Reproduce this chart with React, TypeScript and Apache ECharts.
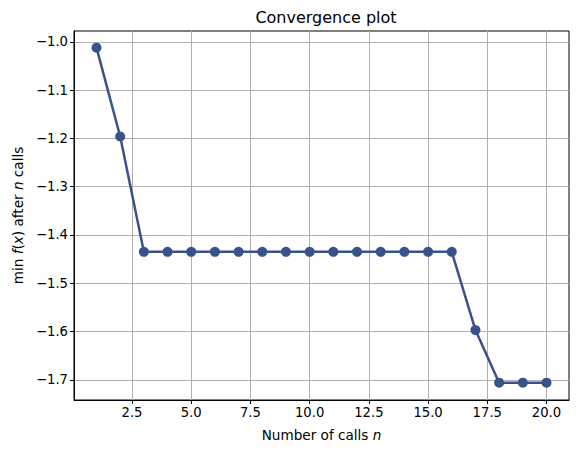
import React, { useEffect, useRef } from "react";
import * as echarts from "echarts";

const calls = [1, 2, 3, 4, 5, 6, 7, 8, 9, 10, 11, 12, 13, 14, 15, 16, 17, 18, 19, 20];
const minValues = [
  -1.012, -1.196, -1.435, -1.435, -1.435, -1.435, -1.435, -1.435, -1.435, -1.435,
  -1.435, -1.435, -1.435, -1.435, -1.435, -1.435, -1.597, -1.706, -1.706, -1.706,
];
const xTicks = [2.5, 5.0, 7.5, 10.0, 12.5, 15.0, 17.5, 20.0];
const yTicks = [-1.7, -1.6, -1.5, -1.4, -1.3, -1.2, -1.1, -1.0];

const FONT = "DejaVu Sans";
const fmt = (v: number) => (v < 0 ? "\u2212" : "") + Math.abs(v).toFixed(1);

export default function App() {
  const ref = useRef<HTMLDivElement>(null);
  useEffect(() => {
    if (!ref.current) return;
    const chart = echarts.init(ref.current, undefined, { renderer: "svg" });
    chart.setOption({
      animation: false,
      backgroundColor: "#ffffff",
      title: {
        text: "Convergence plot",
        left: 321,
        textAlign: "center",
        top: 4,
        textStyle: { fontFamily: FONT, fontSize: 16, fontWeight: "normal", color: "#000" },
      },
      grid: {
        left: 74,
        right: 10,
        top: 31,
        bottom: 54,
        show: true,
        borderColor: "#000",
        borderWidth: 1,
        backgroundColor: "transparent",
      },
      xAxis: {
        type: "value",
        min: 0.05,
        max: 20.95,
        name: "{t|Number of calls }{i|n}",
        nameLocation: "middle",
        nameGap: 28,
        nameTextStyle: {
          rich: {
            t: { fontFamily: FONT, fontSize: 13.6, color: "#000" },
            i: { fontFamily: FONT, fontSize: 13.6, fontStyle: "italic", color: "#000" },
          },
        },
        axisLine: { show: true, onZero: false, lineStyle: { color: "#000", width: 1 } },
        axisTick: { show: true, length: 4, lineStyle: { color: "#000" }, customValues: xTicks },
        axisLabel: {
          customValues: xTicks,
          formatter: (v: number) => fmt(v),
          fontFamily: FONT,
          fontSize: 13.2,
          color: "#000",
          margin: 6,
        },
        splitLine: { show: true, lineStyle: { color: "#b0b0b0", width: 1 } },
      },
      yAxis: {
        type: "value",
        min: -1.7419,
        max: -0.9775,
        name: "{t|min }{i|f}{t|(}{i|x}{t|) after }{i|n}{t| calls}",
        nameLocation: "middle",
        nameRotate: 90,
        nameGap: 49,
        nameTextStyle: {
          rich: {
            t: { fontFamily: FONT, fontSize: 13.6, color: "#000" },
            i: { fontFamily: FONT, fontSize: 13.6, fontStyle: "italic", color: "#000" },
          },
        },
        axisLine: { show: true, onZero: false, lineStyle: { color: "#000", width: 1 } },
        axisTick: { show: true, length: 4, lineStyle: { color: "#000" }, customValues: yTicks },
        axisLabel: {
          customValues: yTicks,
          formatter: (v: number) => fmt(v),
          fontFamily: FONT,
          fontSize: 13.2,
          color: "#000",
          margin: 6,
        },
        splitLine: { show: true, lineStyle: { color: "#b0b0b0", width: 1 } },
      },
      series: [
        {
          type: "line",
          data: calls.map((c, i) => [c, minValues[i]]),
          symbol: "circle",
          symbolSize: 10,
          lineStyle: { color: "#3a528b", width: 2.5 },
          itemStyle: { color: "#3a528b" },
          z: 5,
        },
      ],
    });
    return () => chart.dispose();
  }, []);
  return (
    <div
      ref={ref}
      style={{ position: "absolute", left: 0, top: 0, width: 579, height: 454 }}
    />
  );
}
